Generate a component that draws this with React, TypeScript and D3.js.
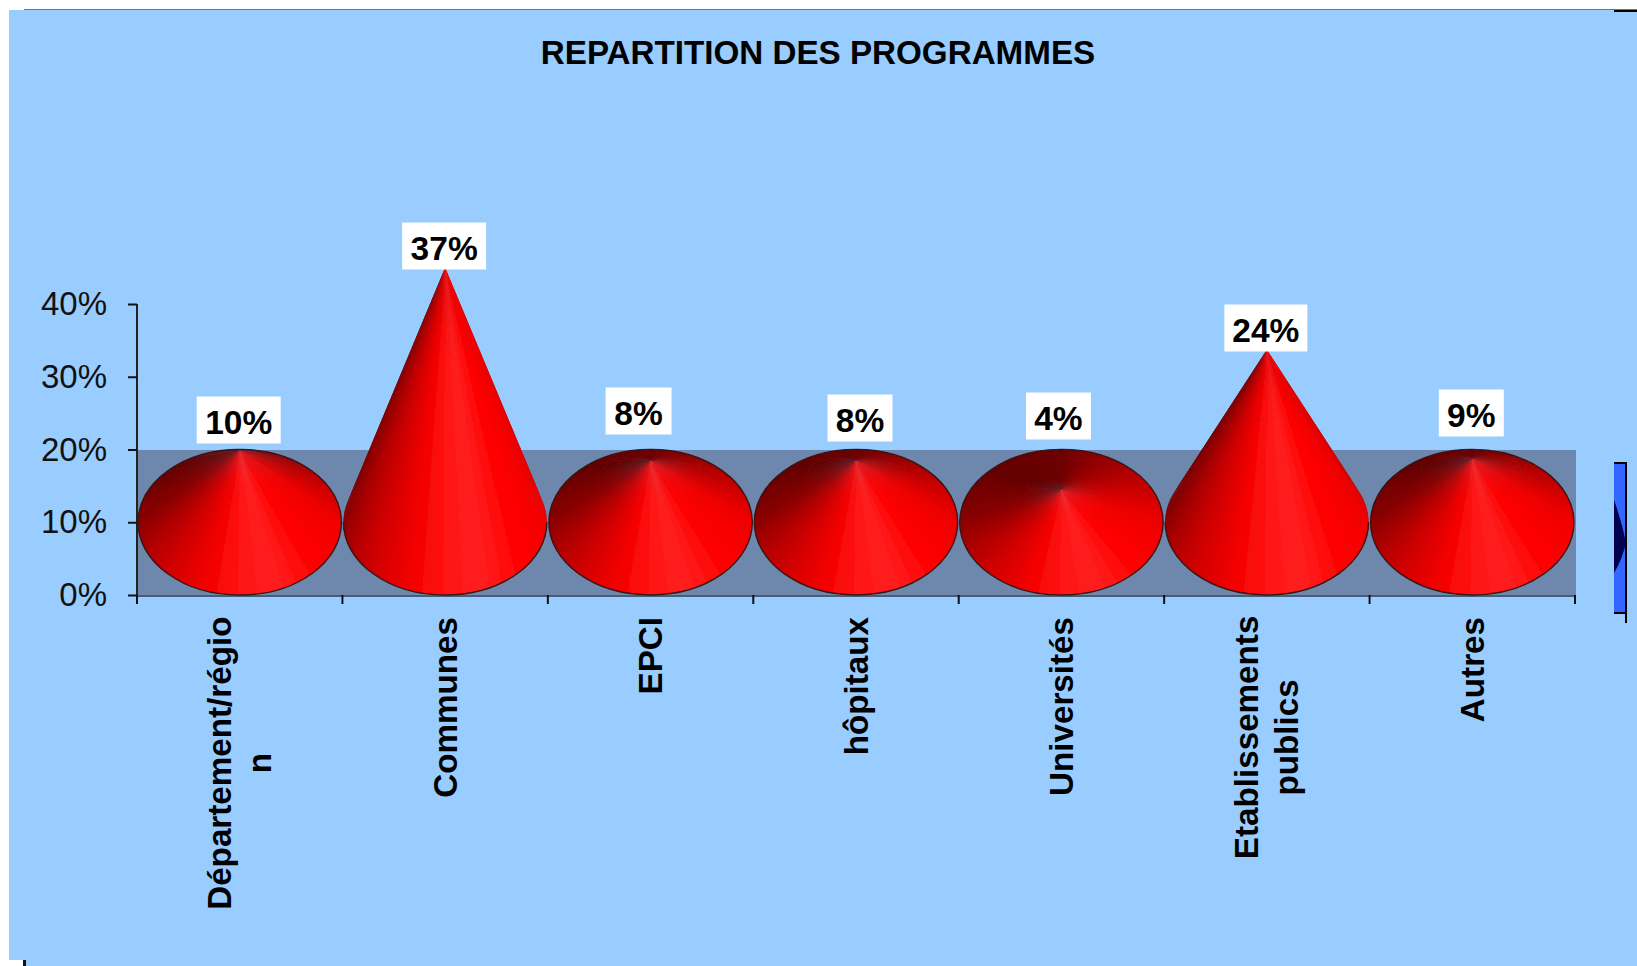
import React, { useEffect, useRef } from 'react';
import * as d3 from 'd3';

// values
const categories = ['Département/région', 'Communes', 'EPCI', 'hôpitaux', 'Universités', 'Etablissements publics', 'Autres'];
const categoryLines = [['Département/régio', 'n'], ['Communes'], ['EPCI'], ['hôpitaux'], ['Universités'], ['Etablissements', 'publics'], ['Autres']];
const percents = [10, 37, 8, 8, 4, 24, 9];
// drawn height of each cone above its base, in axis percent
const coneHeights = [9.9, 35, 8.4, 8.4, 4.4, 23.7, 8.7];
const yTicks = [0, 10, 20, 30, 40];

// data label placement: [dx from band centre, px above axis zero]
const labelOffsets = [[-1, 175], [-1, 349], [-12, 184], [4, 177], [-3, 179], [-1, 267], [-1, 182]];
const labelWidths = [84, 84, 66, 65, 65, 83, 65];

// shade around the base, degrees clockwise from the right, 90 = front
const shadeStops: [number, string][] = [
  [0, '#ee0000'], [40, '#ff0000'], [70, '#ff2020'], [90, '#ff1212'], [110, '#f20000'],
  [140, '#c80000'], [180, '#880000'], [225, '#640000'], [270, '#6e0000'], [315, '#b00000'], [360, '#ee0000'],
];

const W = 1637;
const H = 966;
const FONT = '"Liberation Sans", Arial, sans-serif';

const x = d3.scaleBand<string>().domain(categories).range([137, 1575]);
const y = d3.scaleLinear().domain([0, 40]).range([595, 304]);
const shade = d3.scaleLinear<string>()
  .domain(shadeStops.map(d => d[0]))
  .range(shadeStops.map(d => d[1]))
  .interpolate(d3.interpolateRgb);

const STEPS = 180;

function Cone({ cx, height }: { cx: number; height: number }) {
  const cy = y(10);
  const ry = y(0) - y(10);
  const rx = x.bandwidth() / 2 - 1;
  const apexY = y(10 + height);
  const h = cy - apexY;

  const slices = d3.range(STEPS).map(i => {
    const a0 = (i / STEPS) * Math.PI * 2;
    const a1 = ((i + 1.6) / STEPS) * Math.PI * 2;
    const deg = ((i + 0.5) / STEPS) * 360;
    const p0 = [cx + rx * Math.cos(a0), cy + ry * Math.sin(a0)];
    const p1 = [cx + rx * Math.cos(a1), cy + ry * Math.sin(a1)];
    return { deg, mid: Math.sin((a0 + a1) / 2), p0, p1 };
  }).sort((a, b) => d3.ascending(a.mid, b.mid));

  // whole ellipse outline for flat cones, only the lower half for tall ones
  const outline = h <= ry * 1.01
    ? `M${cx - rx},${cy}A${rx},${ry} 0 1,0 ${cx + rx},${cy}A${rx},${ry} 0 1,0 ${cx - rx},${cy}Z`
    : `M${cx - rx},${cy}A${rx},${ry} 0 1,0 ${cx + rx},${cy}`;

  return (
    <g filter="url(#soft)">
      {slices.map((s, i) => (
        <path key={i} d={`M${cx},${apexY}L${s.p0[0]},${s.p0[1]}L${s.p1[0]},${s.p1[1]}Z`} fill={shade(s.deg)} />
      ))}
      <path d={outline} fill="none" stroke="#3a1414" strokeWidth={1.4} />
    </g>
  );
}

export default function App() {
  const yAxisRef = useRef<SVGGElement>(null);

  useEffect(() => {
    const g = d3.select(yAxisRef.current);
    g.call(d3.axisLeft(y).tickValues(yTicks).tickFormat(d => `${d}%`).tickSize(9).tickPadding(21) as any);
    g.select('.domain').attr('stroke', '#222').attr('stroke-width', 2).attr('d', `M0,${y(40)}V${y(0)}`);
    g.selectAll('.tick line').attr('stroke', '#111').attr('stroke-width', 2);
    g.selectAll('.tick text').attr('font-family', FONT).attr('font-size', 33).attr('fill', '#111');
  }, []);

  const edges = [...categories.map(c => x(c) as number), x.range()[1]];

  return (
    <svg width={W} height={H} viewBox={`0 0 ${W} ${H}`} style={{ position: 'absolute', left: 0, top: 0, display: 'block' }}>
      <defs>
        <filter id="soft" x="-5%" y="-5%" width="110%" height="110%">
          <feGaussianBlur stdDeviation={0.6} />
        </filter>
      </defs>
      <rect x={0} y={0} width={W} height={H} fill="#fff" />
      <rect x={9} y={10} width={W - 9} height={950} fill="#99ccff" />
      <rect x={24} y={950} width={W - 24} height={16} fill="#99ccff" />
      <line x1={24} x2={W} y1={9.5} y2={9.5} stroke="#777" strokeWidth={1} />
      <rect x={1614} y={10} width={23} height={2} fill="#000" />
      <rect x={23} y={960} width={3} height={6} fill="#111" />

      <text x={818} y={52} textAnchor="middle" dominantBaseline="central" fontFamily={FONT} fontWeight="bold" fontSize={33.2} fill="#000">
        REPARTITION DES PROGRAMMES
      </text>

      {/* back wall */}
      <rect x={x.range()[0]} y={450} width={1439} height={y(0) - 450 + 1} fill="#6e88ad" />
      <line x1={x.range()[0]} x2={1576} y1={596} y2={596} stroke="#4a5c78" strokeWidth={2} />

      {edges.map((e, i) => (
        <line key={i} x1={e} x2={e} y1={595} y2={604} stroke="#111" strokeWidth={2} />
      ))}
      <g ref={yAxisRef} transform={`translate(${x.range()[0]},0)`} />

      {categories.map((c, i) => (
        <Cone key={c} cx={(x(c) as number) + x.bandwidth() / 2} height={coneHeights[i]} />
      ))}

      {categories.map((c, i) => {
        const cx = (x(c) as number) + x.bandwidth() / 2 + labelOffsets[i][0];
        const cy = y(0) - labelOffsets[i][1];
        return (
          <g key={c}>
            <rect x={cx - labelWidths[i] / 2} y={cy - 23.5} width={labelWidths[i]} height={47} fill="#fff" />
            <text x={cx} y={cy + 2} textAnchor="middle" dominantBaseline="central" fontFamily={FONT} fontWeight="bold" fontSize={33.5} fill="#000">
              {percents[i]}%
            </text>
          </g>
        );
      })}

      {categories.map((c, i) => {
        const cx = (x(c) as number) + x.bandwidth() / 2;
        const lines = categoryLines[i];
        const blockLen = d3.max(lines, l => l.length) as number;
        return (
          <g key={c} transform={`translate(${cx},617) rotate(-90)`} fontFamily={FONT} fontWeight="bold" fontSize={33.2} fill="#000">
            {lines.map((l, j) => (
              <text
                key={l}
                x={lines.length > 1 ? -blockLen * 8.6 : 0}
                y={(j - (lines.length - 1) / 2) * 40}
                textAnchor={lines.length > 1 ? 'middle' : 'end'}
                dominantBaseline="central"
              >
                {l}
              </text>
            ))}
          </g>
        );
      })}

      {/* clipped legend swatch at the right edge */}
      <rect x={1614} y={463} width={12} height={150} fill="#3366ff" />
      <path d="M1614,500Q1622,522 1626,543Q1622,560 1614,573Z" fill="#000050" />
      <path d="M1614,463H1626V623M1614,613H1626" fill="none" stroke="#000" strokeWidth={2} />
    </svg>
  );
}
